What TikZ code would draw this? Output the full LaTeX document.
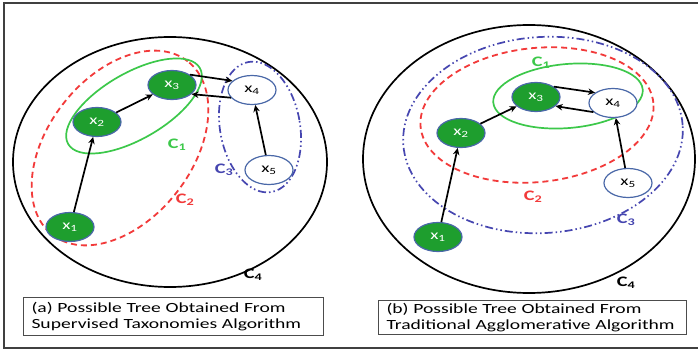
\documentclass[tikz,border=0pt]{standalone}
\usepackage{fontspec}
\setmainfont{Carlito}
\newfontfamily\widefont[FakeStretch=1.4]{Carlito}
\usetikzlibrary{arrows.meta,shapes.geometric}
\definecolor{nodegreen}{HTML}{1E9E2E}
\definecolor{nodeline}{HTML}{4A68A8}
\definecolor{ringgreen}{HTML}{3CC84A}
\definecolor{ringred}{HTML}{F23A3A}
\definecolor{ringblue}{HTML}{4646B0}
\begin{document}
\begin{tikzpicture}[x=1pt,y=-1pt,
  gnode/.style={ellipse,draw=nodeline,line width=1.2pt,fill=nodegreen,text=white,
    minimum width=48pt,minimum height=29pt,inner sep=0pt,font=\widefont\fontsize{13.5}{13.5}\selectfont},
  wnode/.style={gnode,fill=white,text=black},
  arr/.style={-{Stealth[length=7pt,width=6.5pt]},line width=1.7pt,black},
  ringA/.style={draw=black,line width=1.7pt},
  ringG/.style={draw=ringgreen,line width=1.7pt},
  ringR/.style={draw=ringred,line width=1.8pt,dash pattern=on 6pt off 4pt},
  ringB/.style={draw=ringblue,line width=1.7pt,dash pattern=on 8pt off 3pt on 1.5pt off 3pt on 1.5pt off 3pt},
  lbl/.style={font=\widefont\bfseries\fontsize{14.5}{14.5}\selectfont,inner sep=0pt},
  capbox/.style={draw=black!70,line width=1pt,align=left,inner xsep=8pt,inner ysep=2pt,
    font=\widefont\fontsize{14}{15.5}\selectfont,anchor=north west}
]
\useasboundingbox (0,0) rectangle (698,350);
\fill[white] (0,0) rectangle (698,350);
% frame
\draw[black!75,line width=2pt] (698,3.5) -- (3.5,3.5) -- (3.5,347.5) -- (698,347.5);

% ---------- panel (a) ----------
\draw[ringA] (170,162) ellipse[x radius=157pt,y radius=125pt];
\draw[ringR] (120,148) ellipse[x radius=110pt,y radius=72pt,rotate=52];
\draw[ringG] (134,106) ellipse[x radius=76pt,y radius=33pt,rotate=30];
\draw[ringB] (260,127) ellipse[x radius=40pt,y radius=66pt,rotate=10];

\node[gnode] (a1) at (70,227) {x\textsubscript{1}};
\node[gnode] (a2) at (97,122) {x\textsubscript{2}};
\node[gnode] (a3) at (172,85) {x\textsubscript{3}};
\node[wnode] (a4) at (252,90) {x\textsubscript{4}};
\node[wnode] (a5) at (269,170) {x\textsubscript{5}};

\draw[arr] (a1) -- (a2);
\draw[arr] (a2) -- (a3);
\draw[arr] (a3.30) -- (a4.155);
\draw[arr] (a4.200) -- (a3.-25);
\draw[arr] (a5) -- (a4);

\node[lbl,text=ringgreen] (ac1) at (177,145) {C\textsubscript{1}};
\node[lbl,text=ringred] (ac2) at (185,200) {C\textsubscript{2}};
\node[lbl,text=ringblue] (ac3) at (224,170) {C\textsubscript{3}};
\node[lbl,text=black] (ac4) at (253,275) {C\textsubscript{4}};

\node[capbox,minimum width=300pt,minimum height=38pt,text width=284pt] (acap) at (23,297)
  {(a) Possible Tree Obtained From\\Supervised Taxonomies Algorithm};

% ---------- panel (b) ----------
\draw[ringA] (529,159) ellipse[x radius=166pt,y radius=134pt];
\draw[ringB] (543,135) ellipse[x radius=140pt,y radius=98pt,rotate=4];
\draw[ringR] (537,115) ellipse[x radius=117pt,y radius=67pt,rotate=6];
\draw[ringG] (568,96) ellipse[x radius=75pt,y radius=32pt,rotate=5];

\node[gnode] (b1) at (438,237) {x\textsubscript{1}};
\node[gnode] (b2) at (461,133) {x\textsubscript{2}};
\node[gnode] (b3) at (536,97) {x\textsubscript{3}};
\node[wnode] (b4) at (613,103) {x\textsubscript{4}};
\node[wnode] (b5) at (628,183) {x\textsubscript{5}};

\draw[arr] (b1) -- (b2);
\draw[arr] (b2) -- (b3);
\draw[arr] (b3.30) -- (b4.150);
\draw[arr] (b4.205) -- (b3.-25);
\draw[arr] (b5) -- (b4);

\node[lbl,text=ringgreen] (bc1) at (541,63) {C\textsubscript{1}};
\node[lbl,text=ringred] (bc2) at (533,197) {C\textsubscript{2}};
\node[lbl,text=ringblue] (bc3) at (626,220) {C\textsubscript{3}};
\node[lbl,text=black] (bc4) at (626,283) {C\textsubscript{4}};

\node[capbox,minimum width=308pt,minimum height=34pt,text width=292pt] (bcap) at (378,300)
  {(b) Possible Tree Obtained From\\Traditional Agglomerative Algorithm};
\end{tikzpicture}
\end{document}
